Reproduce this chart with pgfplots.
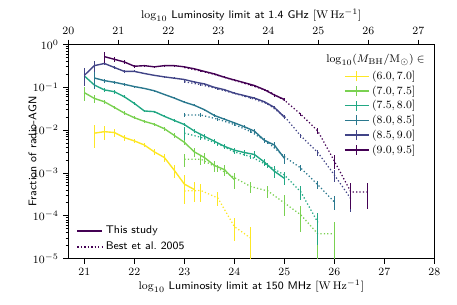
\documentclass[border=0pt]{standalone}
\usepackage{pgfplots}
\usepackage{pgfplotstable}
\pgfplotsset{compat=1.18}
\definecolor{c1}{HTML}{FDE725}
\definecolor{c2}{HTML}{7AD151}
\definecolor{c3}{HTML}{22A884}
\definecolor{c4}{HTML}{2A788E}
\definecolor{c5}{HTML}{414487}
\definecolor{c6}{HTML}{440154}

\pgfplotstableread{
x y e
21.2 0.0085 0.55
21.4 0.0092 0.35
21.6 0.0088 0.2
21.8 0.0067 0.15
22.0 0.0056 0.12
22.2 0.0045 0.12
22.4 0.0031 0.15
22.6 0.0023 0.2
22.8 0.00115 0.35
23.0 0.00055 0.65
23.2 0.00041 0.5
}\ys
\pgfplotstableread{
x y e
23.0 0.00038 0.5
23.33 0.00039 0.45
23.67 0.00026 0.35
24.0 0.000056 0.55
24.33 0.00003 0.8
}\yd
\pgfplotstableread{
x y e
21.0 0.075 0.35
21.2 0.055 0.2
21.4 0.046 0.12
21.6 0.034 0.1
21.8 0.025 0.1
22.0 0.0195 0.08
22.2 0.016 0.08
22.4 0.0137 0.08
22.6 0.0108 0.1
22.8 0.0075 0.12
23.0 0.0052 0.15
23.2 0.0031 0.25
23.4 0.0023 0.3
23.6 0.0015 0.3
23.8 0.0012 0.3
24.0 0.0007 0.4
}\ls
\pgfplotstableread{
x y e
23.0 0.0021 0.35
23.33 0.0021 0.25
23.67 0.0013 0.2
24.0 0.00078 0.3
24.33 0.00048 0.3
24.67 0.00038 0.3
25.0 0.0002 0.5
25.33 0.000105 0.6
25.67 0.000038 0.8
26.0 0.000038 0.9
}\ld
\pgfplotstableread{
x y e
21.0 0.184 0.3
21.2 0.113 0.2
21.4 0.087 0.12
21.6 0.079 0.1
21.8 0.060 0.08
22.0 0.042 0.06
22.2 0.028 0.06
22.4 0.027 0.06
22.6 0.021 0.06
22.8 0.0168 0.07
23.0 0.0135 0.08
23.2 0.0095 0.1
23.4 0.0072 0.12
23.6 0.0055 0.12
23.8 0.0042 0.15
24.0 0.0034 0.15
24.2 0.0030 0.15
24.4 0.0027 0.18
24.6 0.0018 0.2
24.8 0.0011 0.3
25.0 0.00075 0.3
}\gs
\pgfplotstableread{
x y e
23.0 0.0085 0.4
23.33 0.0068 0.15
23.67 0.0048 0.12
24.0 0.0031 0.1
24.33 0.0024 0.1
24.67 0.0015 0.12
25.0 0.0009 0.2
25.33 0.00036 0.35
25.67 0.00007 0.7
}\gd
\pgfplotstableread{
x y e
21.2 0.165 0.45
21.4 0.143 0.1
21.6 0.131 0.07
21.8 0.117 0.06
22.0 0.104 0.05
22.2 0.094 0.05
22.4 0.083 0.05
22.6 0.068 0.05
22.8 0.056 0.05
23.0 0.045 0.05
23.2 0.038 0.05
23.4 0.030 0.05
23.6 0.022 0.06
23.8 0.018 0.06
24.0 0.0148 0.07
24.2 0.012 0.08
24.4 0.0095 0.1
24.6 0.0058 0.12
24.8 0.0045 0.15
25.0 0.0022 0.25
}\ts
\pgfplotstableread{
x y e
23.0 0.0225 0.1
23.33 0.0225 0.1
23.67 0.018 0.07
24.0 0.0135 0.07
24.33 0.0092 0.08
24.67 0.0052 0.1
25.0 0.0024 0.12
25.33 0.0013 0.15
25.67 0.00053 0.2
26.0 0.00021 0.35
}\td
\pgfplotstableread{
x y e
21.0 0.19 0.45
21.2 0.32 0.3
21.4 0.36 0.1
21.6 0.29 0.06
21.8 0.235 0.06
22.0 0.235 0.05
22.2 0.21 0.04
22.4 0.19 0.04
22.6 0.175 0.04
22.8 0.163 0.04
23.0 0.152 0.04
23.2 0.133 0.04
23.4 0.12 0.04
23.6 0.10 0.04
23.8 0.088 0.04
24.0 0.073 0.04
24.2 0.064 0.04
24.4 0.056 0.04
24.6 0.046 0.05
24.8 0.034 0.06
25.0 0.020 0.08
}\bs
\pgfplotstableread{
x y e
23.0 0.135 0.08
23.33 0.115 0.03
23.67 0.092 0.03
24.0 0.072 0.03
24.33 0.056 0.03
24.67 0.041 0.04
25.0 0.021 0.05
25.33 0.0073 0.1
25.67 0.003 0.15
26.0 0.0009 0.3
26.33 0.00025 0.5
}\bd
\pgfplotstableread{
x y e
21.4 0.52 0.3
21.6 0.45 0.12
21.8 0.39 0.1
22.0 0.31 0.08
22.2 0.32 0.06
22.4 0.30 0.05
22.6 0.32 0.05
22.8 0.32 0.05
23.0 0.30 0.05
23.2 0.27 0.05
23.4 0.235 0.04
23.6 0.205 0.04
23.8 0.172 0.04
24.0 0.148 0.04
24.2 0.128 0.04
24.4 0.11 0.05
24.6 0.088 0.06
24.8 0.066 0.08
25.0 0.052 0.1
}\ps
\pgfplotstableread{
x y e
23.0 0.29 0.03
23.33 0.24 0.03
23.67 0.19 0.03
24.0 0.145 0.03
24.33 0.112 0.03
24.67 0.082 0.04
25.0 0.05 0.05
25.33 0.0234 0.1
25.67 0.0095 0.15
26.0 0.0019 0.35
26.33 0.00036 0.6
26.67 0.00036 0.6
}\pd

\pgfplotsset{
  sol/.style={line width=1pt, solid, error bars/.cd, y dir=both, y explicit relative, error mark=none, error bar style={line width=0.9pt, solid}},
  dot/.style={line width=0.9pt, dash pattern=on 0.9pt off 1.6pt, forget plot, error bars/.cd, y dir=both, y explicit relative, error mark=none, error bar style={line width=0.9pt, solid}},
}

\begin{document}
\begin{tikzpicture}
\useasboundingbox (-49.2pt,-33.3pt) rectangle (279.8pt,186.2pt);
\begin{axis}[
  at={(0,0)}, anchor=south west, scale only axis,
  width=263.5pt, height=154.2pt,
  xmin=20.68, xmax=28, ymode=log, ymin=1e-5, ymax=1,
  xtick={21,22,...,28}, ytick={1e-5,1e-4,1e-3,1e-2,1e-1,1},
  xtick pos=bottom, ytick pos=left, tick align=outside,
  major tick length=3.5pt, minor tick length=2pt,
  axis line style={line width=0.8pt}, tick style={line width=0.6pt, black},
  tick label style={font=\footnotesize},
  label style={font=\footnotesize},
  xlabel={$\log_{10}$ \textsf{Luminosity limit at 150 MHz} $[\mathrm{W\,Hz^{-1}}]$},
  ylabel={\textsf{Fraction of radio-AGN}},
  xlabel style={yshift=3.5pt},
  ylabel style={yshift=-9.5pt},
  legend style={at={(0.753,0.89)}, anchor=north west, draw=none, fill=none,
    font=\footnotesize, row sep=-0.9pt, inner sep=0pt},
  legend cell align=left,
  legend image code/.code={
    \draw[#1, line width=1pt] (0pt,0pt) -- (17pt,0pt);
    \draw[#1, line width=1pt] (8.5pt,-3.6pt) -- (8.5pt,3.6pt);
  },
]
\addplot[c1, dot] table[x=x, y=y, y error=e] {\yd};
\addplot[c2, dot] table[x=x, y=y, y error=e] {\ld};
\addplot[c3, dot] table[x=x, y=y, y error=e] {\gd};
\addplot[c4, dot] table[x=x, y=y, y error=e] {\td};
\addplot[c5, dot] table[x=x, y=y, y error=e] {\bd};
\addplot[c6, dot] table[x=x, y=y, y error=e] {\pd};
\addplot[c1, sol] table[x=x, y=y, y error=e] {\ys};
\addlegendentry{$(6.0, 7.0]$}
\addplot[c2, sol] table[x=x, y=y, y error=e] {\ls};
\addlegendentry{$(7.0, 7.5]$}
\addplot[c3, sol] table[x=x, y=y, y error=e] {\gs};
\addlegendentry{$(7.5, 8.0]$}
\addplot[c4, sol] table[x=x, y=y, y error=e] {\ts};
\addlegendentry{$(8.0, 8.5]$}
\addplot[c5, sol] table[x=x, y=y, y error=e] {\bs};
\addlegendentry{$(8.5, 9.0]$}
\addplot[c6, sol] table[x=x, y=y, y error=e] {\ps};
\addlegendentry{$(9.0, 9.5]$}
\node[anchor=east, font=\footnotesize, inner sep=0pt] at (rel axis cs:0.9745,0.928)
  {$\log_{10}(M_{\mathrm{BH}}/\mathrm{M}_{\odot}) \in$};
\end{axis}
\begin{axis}[
  at={(0,0)}, anchor=south west, scale only axis,
  width=263.5pt, height=154.2pt,
  xmin=20, xmax=27.32, ymin=0, ymax=1,
  axis x line*=top, axis y line=none,
  xtick={20,21,...,27}, tick align=outside,
  major tick length=3.5pt,
  axis line style={line width=0.8pt, -}, tick style={line width=0.6pt, black},
  tick label style={font=\footnotesize},
  label style={font=\footnotesize},
  xlabel={$\log_{10}$ \textsf{Luminosity limit at 1.4 GHz} $[\mathrm{W\,Hz^{-1}}]$},
  xlabel style={yshift=-2.5pt},
  legend style={at={(0.022,0.017)}, anchor=south west, draw=none, fill=none,
    font=\footnotesize, row sep=0.5pt, inner sep=0pt},
  legend cell align=left,
  legend image code/.code={
    \draw[#1] (0pt,0pt) -- (15pt,0pt);
    \path (0pt,0pt) -- (18pt,0pt);
  },
]
\addlegendimage{c6, line width=1pt}
\addlegendentry{\textsf{This study}}
\addlegendimage{c6, line width=0.9pt, dash pattern=on 0.9pt off 1.6pt}
\addlegendentry{\textsf{Best et al.\ 2005}}
\end{axis}
\end{tikzpicture}
\end{document}
